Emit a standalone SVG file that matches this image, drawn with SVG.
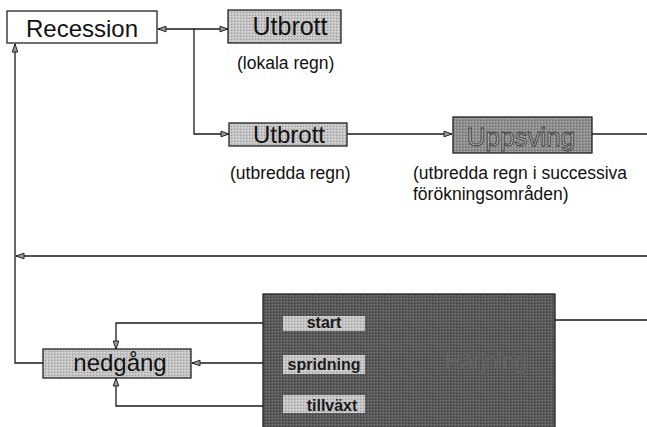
<svg xmlns="http://www.w3.org/2000/svg" width="647" height="427" viewBox="0 0 647 427">
<defs>
<marker id="ah" markerUnits="userSpaceOnUse" markerWidth="10" markerHeight="8" refX="9" refY="4" orient="auto">
<path d="M1,1.2 L9,4 L1,6.8 Z" fill="#9a9a9a" stroke="#222" stroke-width="1"/>
</marker>
<pattern id="stip" width="3" height="3" patternUnits="userSpaceOnUse">
<rect width="3" height="3" fill="#c4c4c4"/>
<rect width="1" height="1" fill="#9a9a9a"/>
<rect x="2" y="1" width="1" height="1" fill="#e0e0e0"/>
</pattern>
<pattern id="stipd" width="3" height="3" patternUnits="userSpaceOnUse">
<rect width="3" height="3" fill="#8f8f8f"/>
<rect width="1" height="1" fill="#6a6a6a"/>
<rect x="2" y="1" width="1" height="1" fill="#b0b0b0"/>
</pattern>
<pattern id="stipk" width="3" height="3" patternUnits="userSpaceOnUse">
<rect width="3" height="3" fill="#5a5a5a"/>
<rect width="1" height="1" fill="#3c3c3c"/>
<rect x="2" y="1" width="1" height="1" fill="#7a7a7a"/>
</pattern>
</defs>
<style>
text{font-family:"Liberation Sans",Arial,sans-serif;}
.box{stroke:#222;stroke-width:1.3;}
.big{font-size:24px;fill:#111;text-anchor:middle;}
.note{font-size:17.5px;fill:#111;}
.lab{font-size:16px;font-weight:bold;fill:#1a1a1a;text-anchor:middle;}
.ln{fill:none;stroke:#1a1a1a;stroke-width:1.3;}
.arr{marker-end:url(#ah);}
</style>

<g id="connectors">
<line class="ln arr" x1="194" y1="29" x2="158" y2="29"/>
<line class="ln arr" x1="194" y1="29" x2="228" y2="29"/>
<polyline class="ln arr" points="194,29 194,134 229,134"/>
<line class="ln arr" x1="347" y1="134" x2="452" y2="134"/>
<line class="ln" x1="592" y1="134" x2="647" y2="134"/>
<line class="ln arr" x1="647" y1="256" x2="16" y2="256"/>
<polyline class="ln arr" points="43,363 15,363 15,44"/>
<polyline class="ln arr" points="263,323 116,323 116,349"/>
<line class="ln arr" x1="263" y1="363" x2="192" y2="363"/>
<polyline class="ln arr" points="263,406 116,406 116,378"/>
<line class="ln" x1="555" y1="320" x2="647" y2="320"/>
</g>

<g id="recession">
<rect class="box" x="7" y="11" width="150" height="32" fill="#fff"/>
<text class="big" x="82" y="37">Recession</text>
</g>

<g id="utbrott1">
<rect class="box" x="228" y="10" width="113" height="33" fill="url(#stip)"/>
<text class="big" x="290" y="35" style="font-size:25px">Utbrott</text>
<text class="note" x="237" y="69">(lokala regn)</text>
</g>

<g id="utbrott2">
<rect class="box" x="229" y="123" width="118" height="23" fill="url(#stip)"/>
<text class="big" x="289" y="143">Utbrott</text>
<text class="note" x="230" y="179">(utbredda regn)</text>
</g>

<g id="uppsving">
<rect class="box" x="453" y="117" width="139" height="36" fill="url(#stipd)"/>
<text class="big" x="521" y="146" style="font-size:26px;fill:#ababab;stroke:#3a3a3a;stroke-width:0.8">Uppsving</text>
<text class="note" x="413" y="179">(utbredda regn i successiva</text>
<text class="note" x="413" y="200">förökningsområden)</text>
</g>

<g id="nedgang">
<rect class="box" x="43" y="349" width="148" height="29" fill="url(#stip)"/>
<text class="big" x="120" y="371">nedgång</text>
</g>

<g id="harjning">
<rect x="263" y="294" width="292" height="140" fill="url(#stipk)" stroke="#222" stroke-width="1.3"/>
<text x="486" y="369" style="font-size:22px;fill:#646464;text-anchor:middle">Härjning</text>
<rect x="283" y="316" width="82" height="15" fill="url(#stip)"/>
<text class="lab" x="324" y="328">start</text>
<rect x="283" y="355" width="82" height="19" fill="url(#stip)"/>
<text class="lab" x="324" y="370">spridning</text>
<rect x="283" y="395" width="82" height="18" fill="url(#stip)"/>
<text class="lab" x="332" y="411">tillväxt</text>
</g>
</svg>
